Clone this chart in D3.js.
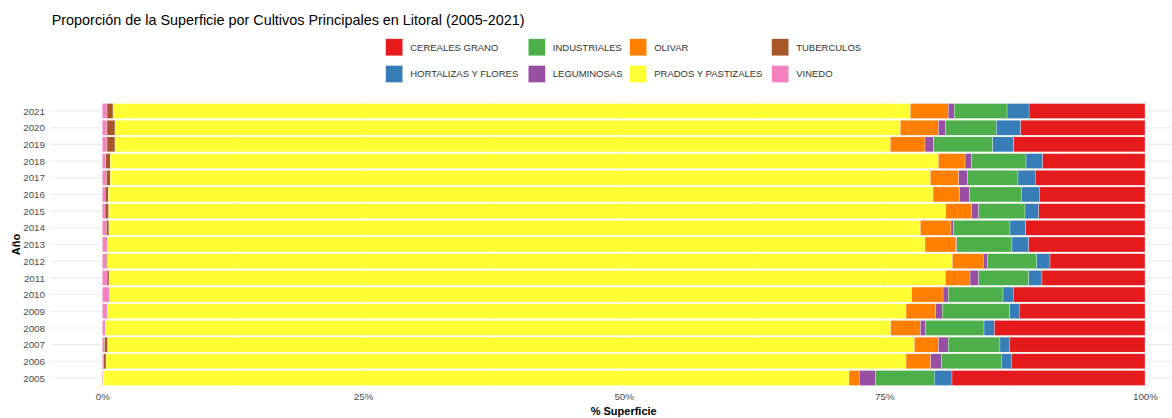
<!DOCTYPE html>
<html>
<head>
<meta charset="utf-8">
<script src="https://cdn.jsdelivr.net/npm/d3@7"></script>
<style>
  body { margin: 0; background: #fff; }
  text { font-family: "Liberation Sans", Arial, sans-serif; }
</style>
</head>
<body>
<svg id="chart" width="1172" height="418"></svg>
<script>
// years, bottom to top
const years = [2005, 2006, 2007, 2008, 2009, 2010, 2011, 2012, 2013,
               2014, 2015, 2016, 2017, 2018, 2019, 2020, 2021];

// % of area per crop
const vinedo       = [0.10, 0.10, 0.20, 0.26, 0.45, 0.65, 0.45, 0.38, 0.45, 0.38, 0.26, 0.26, 0.38, 0.33, 0.44, 0.44, 0.44];
const tuberculos   = [0.00, 0.25, 0.32, 0.02, 0.02, 0.02, 0.19, 0.13, 0.05, 0.25, 0.35, 0.32, 0.38, 0.42, 0.77, 0.77, 0.58];
const prados       = [71.51, 76.73, 77.36, 75.33, 76.61, 76.95, 80.21, 81.01, 78.40, 77.82, 80.27, 79.09, 78.65, 79.43, 74.36, 75.32, 76.47];
const olivar       = [0.99, 2.37, 2.30, 2.84, 2.85, 3.01, 2.37, 2.97, 2.91, 2.94, 2.50, 2.56, 2.72, 2.56, 3.33, 3.65, 3.64];
const leguminosas  = [1.57, 1.02, 0.95, 0.52, 0.63, 0.50, 0.83, 0.42, 0.13, 0.26, 0.67, 0.96, 0.86, 0.64, 0.83, 0.70, 0.58];
const industriales = [5.62, 5.75, 4.96, 5.59, 6.46, 5.25, 4.80, 4.70, 5.30, 5.40, 4.44, 4.95, 4.83, 5.21, 5.66, 4.86, 5.06];
const hortalizas   = [1.70, 0.96, 0.90, 0.99, 0.92, 0.99, 1.27, 1.28, 1.61, 1.51, 1.32, 1.72, 1.66, 1.60, 2.02, 2.34, 2.11];
const cereales     = [18.51, 12.82, 13.01, 14.45, 12.06, 12.63, 9.88, 9.11, 11.15, 11.44, 10.19, 10.14, 10.52, 9.81, 12.59, 11.92, 11.12];

const categories = ["CEREALES GRANO", "HORTALIZAS Y FLORES", "INDUSTRIALES", "LEGUMINOSAS",
                    "OLIVAR", "PRADOS Y PASTIZALES", "TUBERCULOS", "VINEDO"];
const colors = ["#E41A1C", "#377EB8", "#4DAF4A", "#984EA3", "#FF7F00", "#FFFF33", "#A65628", "#F781BF"];
const xTicks = [0, 0.25, 0.5, 0.75, 1];

const seriesValues = {
  "CEREALES GRANO": cereales, "HORTALIZAS Y FLORES": hortalizas, "INDUSTRIALES": industriales,
  "LEGUMINOSAS": leguminosas, "OLIVAR": olivar, "PRADOS Y PASTIZALES": prados,
  "TUBERCULOS": tuberculos, "VINEDO": vinedo
};

// table for d3.stack
const rows = years.map((y, i) => {
  const r = { year: y };
  categories.forEach(c => r[c] = seriesValues[c][i]);
  return r;
});

const svg = d3.select("#chart");
const W = 1172;

const panel = { left: 50, right: 1197, top: 101, bottom: 388 };

const x = d3.scaleLinear().domain([0, 1]).range([102.4, 1145]);
const y = d3.scalePoint().domain(years.slice().reverse())
  .range([panel.top, panel.bottom]).padding(0.6);
const bh = y.step() * 0.9;

const color = d3.scaleOrdinal().domain(categories).range(colors);

// stacking: VINEDO at the left, CEREALES at the right
const stack = d3.stack().keys(categories.slice().reverse()).offset(d3.stackOffsetExpand);
const series = stack(rows);

// grid
const grid = svg.append("g");
const minor = [0.125, 0.375, 0.625, 0.875];
grid.selectAll(".minor").data(minor).enter().append("line")
  .attr("x1", d => x(d)).attr("x2", d => x(d))
  .attr("y1", panel.top).attr("y2", panel.bottom)
  .attr("stroke", "#f0f0f0").attr("stroke-width", 0.6);
grid.selectAll(".major").data(xTicks).enter().append("line")
  .attr("x1", d => x(d)).attr("x2", d => x(d))
  .attr("y1", panel.top).attr("y2", panel.bottom)
  .attr("stroke", "#ebebeb").attr("stroke-width", 1.1);
grid.selectAll(".hy").data(years).enter().append("line")
  .attr("x1", panel.left).attr("x2", W)
  .attr("y1", d => y(d)).attr("y2", d => y(d))
  .attr("stroke", "#ebebeb").attr("stroke-width", 1.1);

// bars
svg.append("g").selectAll("g").data(series).enter().append("g")
  .attr("fill", d => color(d.key))
  .selectAll("rect").data(d => d).enter().append("rect")
  .attr("x", d => x(d[0]))
  .attr("width", d => Math.max(0, x(d[1]) - x(d[0])))
  .attr("y", d => y(d.data.year) - bh / 2)
  .attr("height", bh)
  .attr("stroke", "#fff").attr("stroke-width", 0.3);

// x axis
const xAxis = svg.append("g")
  .attr("transform", `translate(0,${panel.bottom + 2})`)
  .call(d3.axisBottom(x).tickValues(xTicks).tickFormat(d3.format(".0%")).tickSize(0).tickPadding(3));
xAxis.select(".domain").remove();
xAxis.selectAll("text").attr("fill", "#4d4d4d").style("font-size", "9.8px")
  .style("font-family", "Liberation Sans, Arial, sans-serif");

// y axis
const yAxis = svg.append("g")
  .attr("transform", `translate(${panel.left - 3},0)`)
  .call(d3.axisLeft(y).tickSize(0).tickPadding(2));
yAxis.select(".domain").remove();
yAxis.selectAll("text").attr("fill", "#4d4d4d").style("font-size", "9.8px")
  .style("font-family", "Liberation Sans, Arial, sans-serif");

// axis titles
svg.append("text").attr("x", (x(0) + x(1)) / 2).attr("y", 415)
  .attr("text-anchor", "middle").style("font-size", "11px").style("font-weight", "bold")
  .text("% Superficie");
svg.append("text")
  .attr("transform", `translate(20,${(panel.top + panel.bottom) / 2}) rotate(-90)`)
  .attr("text-anchor", "middle").style("font-size", "11px").style("font-weight", "bold")
  .text("Año");

// title
svg.append("text").attr("x", 51.7).attr("y", 24.5)
  .style("font-size", "14.4px").attr("fill", "#000")
  .text("Proporción de la Superficie por Cultivos Principales en Litoral (2005-2021)");

// legend: 2 rows, filled by column
const colX = [385.7, 528.3, 629.7, 771.7];
const rowY = [47.3, 74];
const leg = svg.append("g").selectAll("g").data(categories).enter().append("g")
  .attr("transform", (d, i) => `translate(${colX[Math.floor(i / 2)]},${rowY[i % 2]})`);
leg.append("rect").attr("x", 0).attr("y", -8.5).attr("width", 17).attr("height", 17)
  .attr("fill", d => color(d)).attr("stroke", "#fff").attr("stroke-width", 0.3);
leg.append("text").attr("x", 24.5).attr("y", 3.4)
  .style("font-size", "9.5px").attr("fill", "#333")
  .text(d => d);
</script>
</body>
</html>
